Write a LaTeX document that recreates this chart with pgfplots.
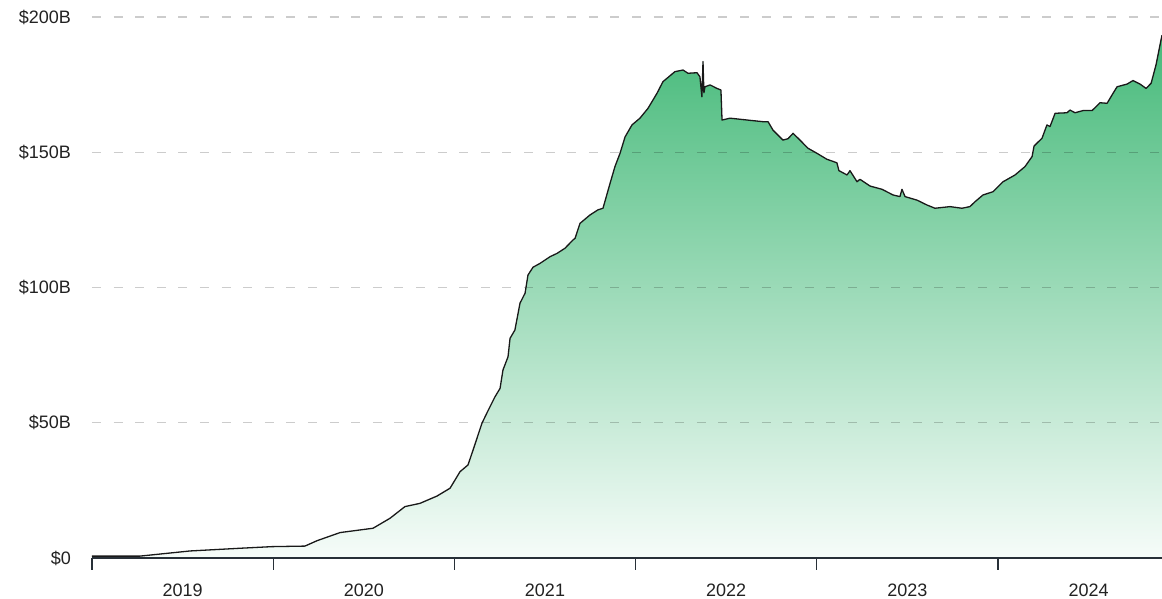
\documentclass[border=0pt]{standalone}
\usepackage{fontspec}
\setmainfont{Liberation Sans}
\usepackage{pgfplots}
\pgfplotsset{compat=1.18}
\usepackage{pgfplotstable}
\definecolor{gtop}{RGB}{70,186,122}
\definecolor{gmid}{RGB}{138,211,170}
\definecolor{gbot}{RGB}{246,252,249}
\definecolor{txt}{RGB}{34,34,34}
\definecolor{axc}{RGB}{40,48,56}

\pgfplotstableread{
x v
2019.000 0.7
2019.265 0.7
2019.541 2.6
2019.817 3.6
2019.993 4.2
2020.175 4.4
2020.242 6.4
2020.369 9.4
2020.551 11.0
2020.645 14.7
2020.727 19.0
2020.810 20.2
2020.904 22.9
2020.976 25.8
2021.031 31.9
2021.075 34.4
2021.103 39.9
2021.152 49.8
2021.180 53.7
2021.224 59.6
2021.252 62.7
2021.268 69.5
2021.296 74.4
2021.307 81.2
2021.334 84.3
2021.362 94.2
2021.390 97.9
2021.406 104.6
2021.434 107.5
2021.472 108.9
2021.528 111.4
2021.566 112.6
2021.610 114.5
2021.655 117.6
2021.666 118.2
2021.693 123.7
2021.748 126.8
2021.792 128.7
2021.820 129.3
2021.859 138.5
2021.886 144.7
2021.914 149.6
2021.942 155.7
2021.980 160.1
2022.024 162.6
2022.068 166.2
2022.118 171.8
2022.151 176.1
2022.217 179.8
2022.262 180.4
2022.289 179.2
2022.339 179.4
2022.355 177.9
2022.366 170.5
2022.372 183.5
2022.377 172.0
2022.383 174.2
2022.411 174.9
2022.449 173.6
2022.471 173.0
2022.477 161.9
2022.521 162.6
2022.576 162.2
2022.631 161.8
2022.703 161.3
2022.731 161.3
2022.758 158.2
2022.813 154.5
2022.841 155.0
2022.869 157.0
2022.907 154.5
2022.951 151.5
2023.001 149.6
2023.056 147.4
2023.111 146.1
2023.122 143.2
2023.167 141.6
2023.183 143.2
2023.222 139.1
2023.238 140.0
2023.294 137.5
2023.360 136.3
2023.421 134.2
2023.459 133.6
2023.470 136.3
2023.487 133.6
2023.553 132.3
2023.608 130.5
2023.652 129.3
2023.735 129.9
2023.801 129.3
2023.845 129.9
2023.873 131.7
2023.917 134.2
2023.972 135.4
2024.028 139.1
2024.094 141.6
2024.149 144.7
2024.188 148.4
2024.199 152.3
2024.243 155.2
2024.270 160.1
2024.287 159.5
2024.315 164.4
2024.381 164.6
2024.397 165.6
2024.425 164.6
2024.469 165.4
2024.519 165.4
2024.563 168.3
2024.602 168.1
2024.635 171.8
2024.657 174.2
2024.712 175.2
2024.745 176.5
2024.784 175.2
2024.817 173.6
2024.845 175.5
2024.872 182.3
2024.889 188.0
2024.905 193.3
}\datatable

\begin{document}
\begin{tikzpicture}
\useasboundingbox (-46pt,-20.5pt) rectangle (535pt,279pt);
\begin{axis}[
  at={(0,0)}, anchor=south west, scale only axis,
  width=535pt, height=270.5pt,
  xmin=2019, xmax=2024.905, ymin=0, ymax=200,
  axis x line*=bottom, axis y line*=left,
  y axis line style={draw=none},
  x axis line style={draw=axc, line width=0.65pt},
  axis on top,
  major tick length=0pt,
  tick align=outside,
  xtick={2019.5,2020.5,2021.5,2022.5,2023.5,2024.5},
  xticklabels={2019,2020,2021,2022,2023,2024},
  extra x ticks={2019,2020,2021,2022,2023,2024},
  extra x tick labels={},
  extra x tick style={major tick length=6pt, tick style={draw=axc, line width=0.65pt}},
  ytick={0,50,100,150,200},
  yticklabels={\$0,\$50B,\$100B,\$150B,\$200B},
  ymajorgrids,
  major grid style={draw=black, opacity=0.2, line width=0.6pt, dash pattern=on 4.5pt off 6.3pt},
  tick label style={font=\fontsize{9}{11}\selectfont, text=txt},
  xticklabel style={yshift=-9.5pt},
  yticklabel style={xshift=-7pt},
  /pgf/number format/assume math mode=true,
]
\addplot[draw=none, top color=gtop, middle color=gmid, bottom color=gbot] table[x=x, y=v] {\datatable} \closedcycle;
\addplot[draw=black!90, line width=0.65pt, line join=round] table[x=x, y=v] {\datatable};
\end{axis}
\end{tikzpicture}
\end{document}
